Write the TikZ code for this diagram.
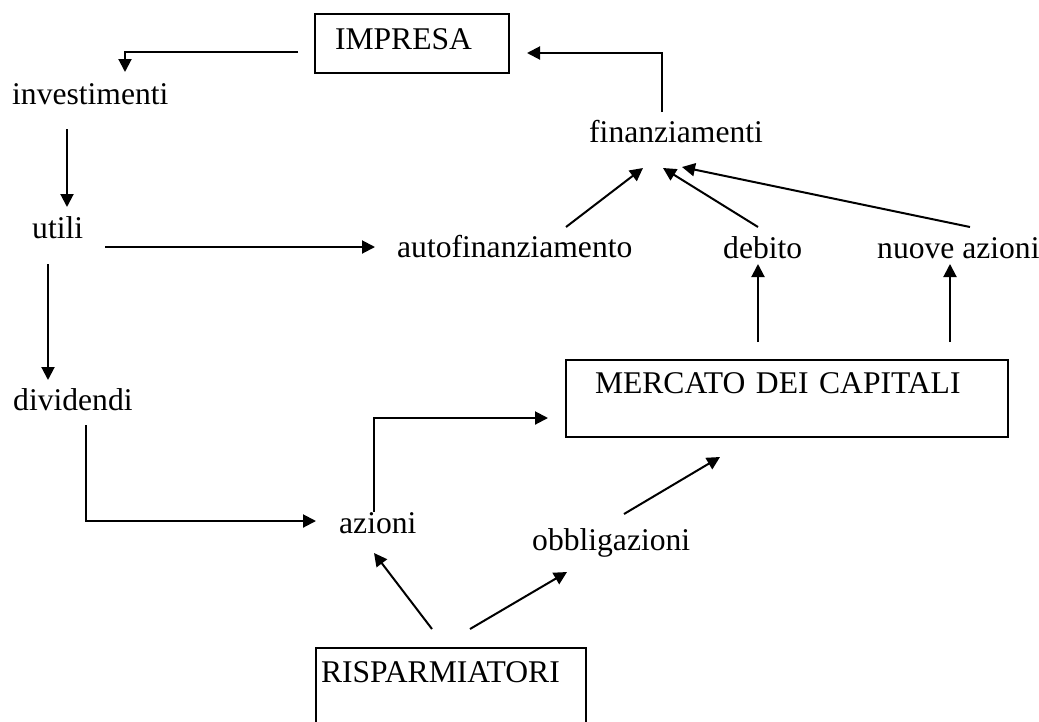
\documentclass[tikz,border=0pt]{standalone}
\usepackage{fontspec}
\setmainfont{Liberation Serif}
\usetikzlibrary{arrows.meta,calc}
\begin{document}
\begin{tikzpicture}[x=1pt,y=-1pt,
  every node/.style={font=\fontsize{31.6pt}{37pt}\selectfont},
  lbl/.style={inner sep=0pt,anchor=base west},
  boxnode/.style={draw,line width=2.6pt,outer sep=0pt,anchor=north west,align=left,rectangle},
  arr/.style={line width=2pt,-{Triangle[length=13pt,width=13pt]}}]
\useasboundingbox (0,0) rectangle (1039,721);
\clip (0,0) rectangle (1039,721);
% boxes
\node[boxnode,inner xsep=20pt,inner ysep=5pt,text width=154pt,text height=30pt,text depth=19pt] (impresa) at (315,14) {IMPRESA};
\node[boxnode,inner xsep=29pt,inner ysep=5pt,text width=384pt,text height=28pt,text depth=39pt] (mercato) at (566,360) {MERCATO DEI CAPITALI};
\node[boxnode,inner xsep=5pt,inner ysep=5pt,text width=260pt,text height=29pt,text depth=60pt] (risp) at (316,648) {RISPARMIATORI};
% labels
\node[lbl] (inv) at (12,104) {investimenti};
\node[lbl] (utili) at (32,238) {utili};
\node[lbl] (div) at (13,410) {dividendi};
\node[lbl] (autof) at (397,257) {autofinanziamento};
\node[lbl] (fin) at (589,142) {finanziamenti};
\node[lbl] (debito) at (723,258) {debito};
\node[lbl] (nuove) at (877,258) {nuove azioni};
\node[lbl] (azioni) at (339,533) {azioni};
\node[lbl] (obblig) at (532,550) {obbligazioni};
% connectors
\draw[arr] ($(impresa.west)+(-17,8.5)$) -| ($(inv.base west)+(113,-32)$);
\draw[arr] ($(fin.base west)+(73,-30)$) |- ($(impresa.east)+(18,9.5)$);
\draw[arr] ($(inv.base west)+(55,25)$) -- ($(utili.base west)+(35,-31)$);
\draw[arr] ($(utili.base west)+(73,9)$) -- ($(autof.base west)+(-22,-10)$);
\draw[arr] ($(utili.base west)+(16,26)$) -- ($(div.base west)+(35,-30)$);
\draw[arr] ($(div.base west)+(73,15)$) |- ($(azioni.base west)+(-23,-12)$);
\draw[arr] ($(azioni.base west)+(35,-21)$) |- ($(mercato.west)+(-18,19.5)$);
\draw[arr] ($(autof.base west)+(169,-30)$) -- ($(fin.base west)+(54,26)$);
\draw[arr] ($(debito.base west)+(35,-31)$) -- ($(fin.base west)+(74,26)$);
\draw[arr] ($(nuove.base west)+(93,-31)$) -- ($(fin.base west)+(93,25)$);
\draw[arr] ($(mercato.north west)+(192,-18)$) -- ($(debito.base west)+(35,6)$);
\draw[arr] ($(mercato.north west)+(384,-18)$) -- ($(nuove.base west)+(73,6)$);
\draw[arr] ($(obblig.base west)+(92,-36)$) -- ($(mercato.south west)+(154,20)$);
\draw[arr] ($(risp.north west)+(116,-19)$) -- ($(azioni.base west)+(35,20)$);
\draw[arr] ($(risp.north west)+(154,-19)$) -- ($(obblig.base west)+(35,22)$);
\end{tikzpicture}
\end{document}
